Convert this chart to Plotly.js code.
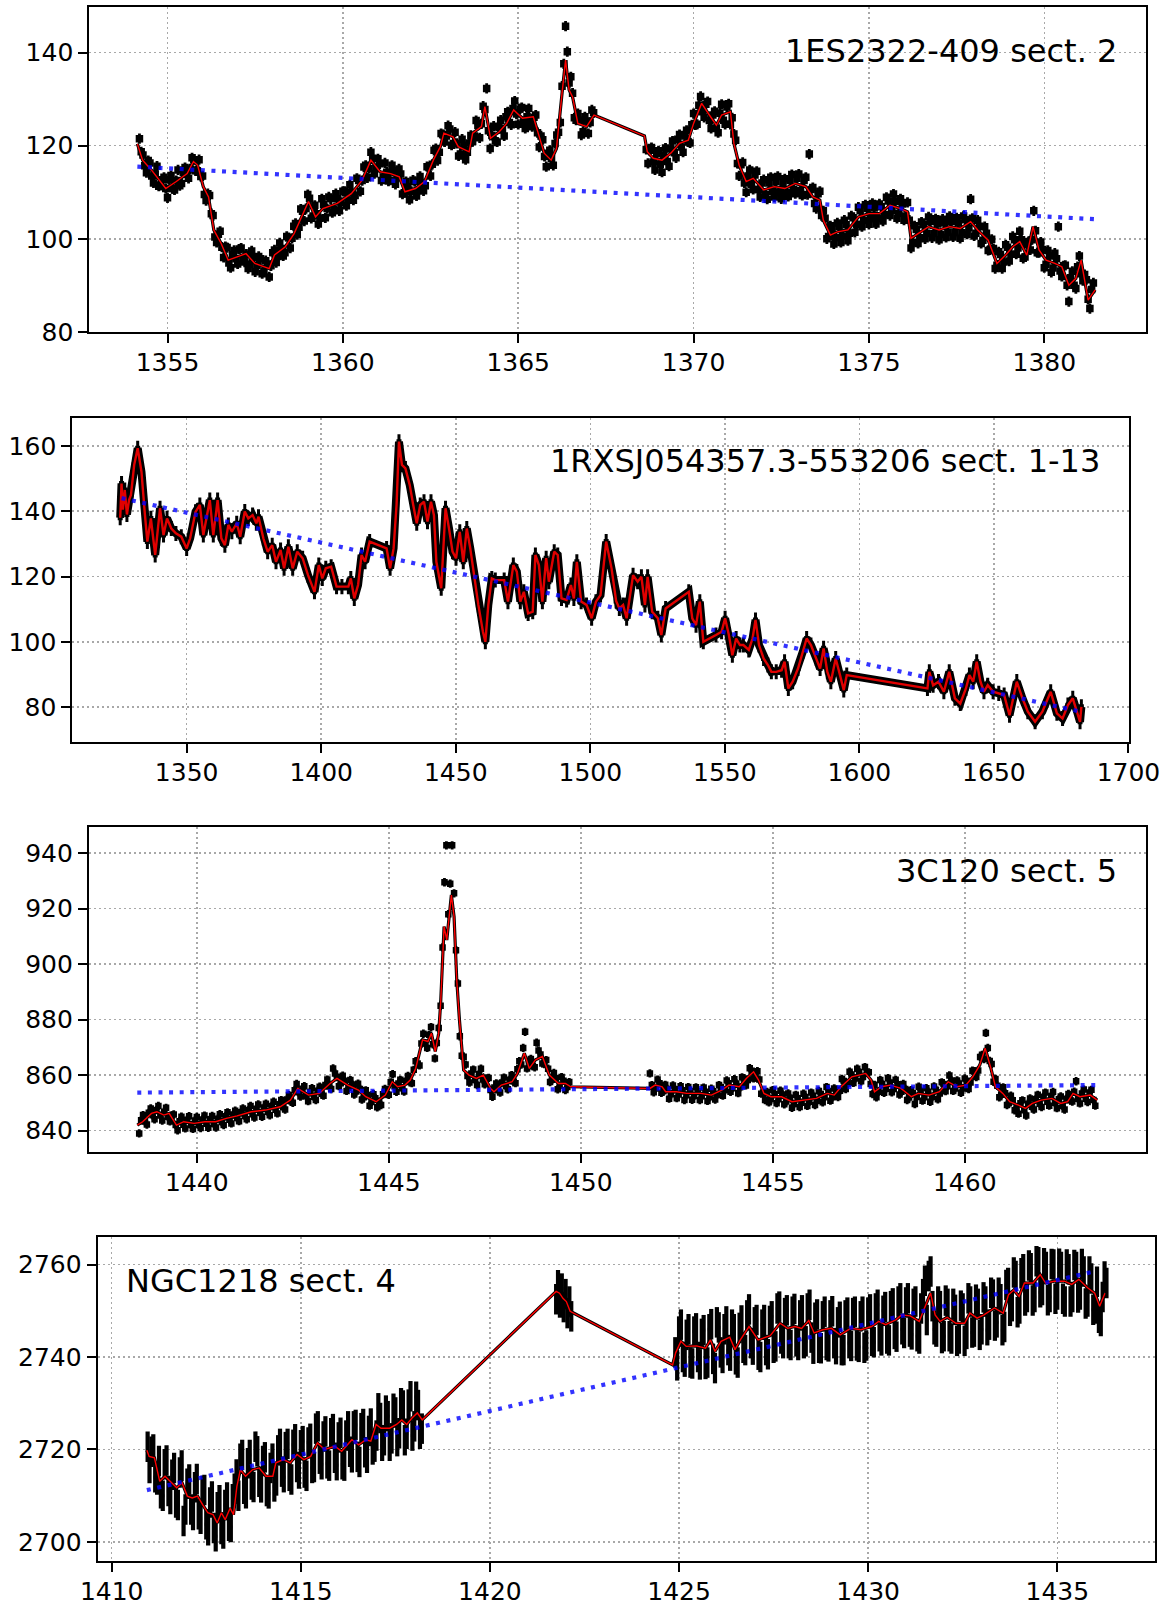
<!DOCTYPE html>
<html>
<head>
<meta charset="utf-8">
<script src="https://cdn.plot.ly/plotly-3.0.1.min.js"></script>
<style>html,body{margin:0;padding:0;background:#fff}#chart{width:1171px;height:1608px}</style>
</head>
<body>
<div id="chart"></div>
<script>
// ---------------- Panel 1 : 1ES2322-409 sect. 2 ----------------
const p1_label = "1ES2322-409 sect. 2";
const p1_st = [1354.14,1354.29,1354.54,1354.95,1355.25,1355.56,1355.74,1355.86,1356.02,1356.17,1356.32,1356.53,1356.73,1356.98,1357.24,1357.49,1357.90,1358.05,1358.36,1358.61,1358.87,1359.02,1359.22,1359.43,1359.84,1360.24,1360.55,1360.80,1361.06,1361.36,1361.61,1361.77,1362.07,1362.33,1362.58,1362.78,1362.88,1363.14,1363.29,1363.60,1363.70,1363.95,1364.05,1364.21,1364.46,1364.67,1364.87,1365.12,1365.43,1365.74,1365.94,1366.09,1366.25,1366.35,1366.45,1366.55,1366.70,1366.95,1367.16,
1368.60,1368.68,1368.85,1369.10,1369.35,1369.60,1369.85,1370.00,1370.23,1370.45,1370.65,1370.80,1371.05,1371.15,1371.30,1371.50,1371.70,1372.00,1372.30,1372.60,1372.90,1373.20,1373.40,1373.60,1373.70,1373.90,1374.10,1374.40,1374.70,1375.00,1375.30,1375.60,1375.90,1376.10,1376.20,1376.40,1376.70,1377.00,1377.30,1377.60,1377.90,1378.10,1378.40,1378.65,1378.90,1379.10,1379.30,1379.50,1379.68,1379.85,1380.05,1380.30,1380.50,1380.70,1380.90,1381.05,1381.25,1381.45];
const p1_smooth = [120.4,116.9,114.8,110.8,112.3,114.0,116.6,115.8,111.2,109.0,101.9,99.0,95.4,96.1,96.8,94.7,93.6,96.5,98.3,101.1,105.4,108.0,104.7,106.5,107.6,109.7,112.6,116.9,114.4,114.0,113.3,110.1,110.8,112.3,116.9,119.8,122.7,121.9,119.8,118.7,122.7,124.1,128.4,121.6,123.0,124.8,127.7,125.9,126.2,118.4,116.9,119.4,131.3,138.4,132.0,130.5,124.8,124.1,126.6,
122.1,118.7,117.3,116.9,118.4,120.5,121.2,124.8,129.1,126.6,124.4,126.6,127.3,120.5,115.8,112.3,113.0,110.5,111.2,110.8,111.9,111.2,109.0,108.3,104.0,100.8,101.5,101.9,104.7,105.4,105.4,107.2,106.5,105.8,100.1,101.1,102.6,101.9,102.6,102.2,103.7,101.9,99.7,94.7,96.5,98.3,99.4,96.5,102.6,97.6,95.4,94.7,94.0,90.0,91.5,95.4,86.8,89.0];
const p1_t = [1354.2,1354.3,1354.4,1354.5,1354.6,1354.7,1354.8,1354.9,1355.0,1355.1,1355.2,1355.3,1355.4,1355.5,1355.6,1355.7,1355.8,1355.9,1356.0,1356.1,1356.2,1356.3,1356.4,1356.5,1356.6,1356.7,1356.8,1356.9,1357.0,1357.1,1357.2,1357.3,1357.4,1357.5,1357.6,1357.7,1357.8,1357.9,1358.0,1358.1,1358.2,1358.3,1358.4,1358.5,1358.6,1358.7,1358.8,1358.9,1359.0,1359.1,1359.2,1359.3,1359.4,1359.5,1359.6,1359.7,1359.8,1359.9,1360.0,1360.1,1360.2,1360.3,1360.4,1360.5,1360.6,1360.7,1360.8,1360.9,1361.0,1361.1,1361.2,1361.3,1361.4,1361.5,1361.6,1361.7,1361.8,1361.9,1362.0,1362.1,1362.2,1362.3,1362.4,1362.5,1362.6,1362.7,1362.8,1362.9,1363.0,1363.1,1363.2,1363.3,1363.4,1363.5,1363.6,1363.7,1363.8,1363.9,1364.0,1364.1,1364.2,1364.3,1364.4,1364.5,1364.6,1364.7,1364.8,1364.9,1365.0,1365.1,1365.2,1365.3,1365.4,1365.5,1365.6,1365.7,1365.8,1365.9,1366.0,1366.1,1366.2,1366.3,1366.35,1366.4,1366.5,1366.6,1366.7,1366.8,1366.9,1367.0,1367.1,
1368.7,1368.8,1368.9,1369.0,1369.1,1369.2,1369.3,1369.4,1369.5,1369.6,1369.7,1369.8,1369.9,1370.0,1370.1,1370.2,1370.3,1370.4,1370.5,1370.6,1370.7,1370.8,1370.9,1371.0,1371.1,1371.2,1371.3,1371.4,1371.5,1371.6,1371.7,1371.8,1371.9,1372.0,1372.1,1372.2,1372.3,1372.4,1372.5,1372.6,1372.7,1372.8,1372.9,1373.0,1373.1,1373.2,1373.3,1373.4,1373.5,1373.6,1373.7,1373.8,1373.9,1374.0,1374.1,1374.2,1374.3,1374.4,1374.5,1374.6,1374.7,1374.8,1374.9,1375.0,1375.1,1375.2,1375.3,1375.4,1375.5,1375.6,1375.7,1375.8,1375.9,1376.0,1376.1,1376.2,1376.3,1376.4,1376.5,1376.6,1376.7,1376.8,1376.9,1377.0,1377.1,1377.2,1377.3,1377.4,1377.5,1377.6,1377.7,1377.8,1377.9,1378.0,1378.1,1378.2,1378.3,1378.4,1378.5,1378.6,1378.7,1378.8,1378.9,1379.0,1379.1,1379.2,1379.3,1379.4,1379.5,1379.6,1379.7,1379.8,1379.9,1380.0,1380.1,1380.2,1380.3,1380.4,1380.5,1380.6,1380.7,1380.8,1380.9,1381.0,1381.1,1381.2,1381.3,1381.4];
const p1_flux = [121.5,118.0,114.2,116.3,112.0,115.6,111.5,113.2,108.8,113.6,110.5,114.8,111.9,115.3,113.0,117.4,114.6,117.0,113.5,108.2,109.3,105.0,99.2,101.6,96.0,98.1,93.8,97.5,94.6,98.0,95.0,93.6,97.4,92.9,96.2,92.5,95.3,91.8,97.0,94.9,99.1,96.3,100.5,98.0,102.7,100.9,106.4,103.8,109.5,104.4,107.2,103.2,108.6,104.5,109.0,105.6,109.7,106.0,110.2,107.1,111.6,108.3,113.0,110.2,115.4,113.1,118.6,114.0,117.2,112.5,116.3,112.4,115.8,111.7,115.0,109.6,112.3,108.4,112.6,109.2,113.4,110.3,115.5,113.5,119.0,116.8,122.6,120.8,124.3,120.1,122.9,117.8,121.4,117.0,120.6,120.9,125.4,121.7,128.5,132.3,119.4,124.2,120.8,125.5,122.1,127.3,124.5,129.6,124.6,128.2,123.7,128.0,124.1,126.6,119.7,121.3,115.5,119.0,115.8,122.3,125.0,137.6,145.7,140.2,134.8,126.0,126.9,122.3,126.2,122.6,127.7,
116.2,119.6,114.8,118.9,114.3,119.5,115.6,121.0,117.4,122.4,118.6,123.3,120.6,126.9,124.6,130.6,126.1,129.5,123.7,127.4,122.8,128.9,124.6,129.0,126.0,121.2,113.5,116.4,110.0,114.8,110.6,114.5,109.0,112.7,108.5,113.2,109.0,113.4,108.6,112.9,109.1,113.8,109.7,113.9,109.3,113.2,118.2,111.0,106.5,110.2,106.0,100.0,102.8,98.9,103.4,99.2,104.0,99.6,104.9,101.4,106.8,102.6,107.3,103.1,107.6,103.2,107.5,103.8,108.9,105.0,109.6,104.4,108.6,104.0,107.8,98.0,102.8,99.0,103.6,100.0,104.7,100.2,104.3,99.8,104.2,100.3,104.8,100.4,104.5,100.1,104.9,101.0,108.5,100.6,104.0,99.0,102.6,97.5,99.9,93.6,97.2,93.6,98.7,95.2,100.5,96.7,101.6,95.8,98.8,97.6,106.0,97.0,99.3,93.8,97.5,92.8,96.9,102.6,91.9,94.3,86.5,93.0,89.3,96.3,91.0,91.2,85.0,90.5];
const p1_t2 = [1354.25,1354.35,1354.45,1354.55,1354.65,1354.75,1354.85,1354.95,1355.05,1355.15,
1355.25,1355.35,1355.45,1355.55,1355.65,1355.75,1355.85,1355.95,1356.05,1356.15,
1356.25,1356.35,1356.45,1356.55,1356.65,1356.75,1356.85,1356.95,1357.05,1357.15,
1357.25,1357.35,1357.45,1357.55,1357.65,1357.75,1357.85,1357.95,1358.05,1358.15,
1358.25,1358.35,1358.45,1358.55,1358.65,1358.75,1358.85,1358.95,1359.05,1359.15,
1359.25,1359.35,1359.45,1359.55,1359.65,1359.75,1359.85,1359.95,1360.05,1360.15,
1360.25,1360.35,1360.45,1360.55,1360.65,1360.75,1360.85,1360.95,1361.05,1361.15,
1361.25,1361.35,1361.45,1361.55,1361.65,1361.75,1361.85,1361.95,1362.05,1362.15,
1362.25,1362.35,1362.45,1362.55,1362.65,1362.75,1362.85,1362.95,1363.05,1363.15,
1363.25,1363.35,1363.45,1363.55,1363.65,1363.75,1363.85,1363.95,1364.05,1364.15,
1364.25,1364.35,1364.45,1364.55,1364.65,1364.75,1364.85,1364.95,1365.05,1365.15,
1365.25,1365.35,1365.45,1365.55,1365.65,1365.75,1365.85,1365.95,1366.05,1366.15,
1366.25,1366.45,1366.55,1366.65,1366.75,1366.85,1366.95,1367.05,1367.15,
1368.65,1368.75,1368.85,1368.95,1369.05,1369.15,1369.25,1369.35,1369.45,1369.55,
1369.65,1369.75,1369.85,1369.95,1370.05,1370.15,1370.25,1370.35,1370.45,1370.55,
1370.65,1370.75,1370.85,1370.95,1371.05,1371.15,1371.25,1371.35,1371.45,1371.55,
1371.65,1371.75,1371.85,1371.95,1372.05,1372.15,1372.25,1372.35,1372.45,1372.55,
1372.65,1372.75,1372.85,1372.95,1373.05,1373.15,1373.25,1373.35,1373.45,1373.55,
1373.65,1373.75,1373.85,1373.95,1374.05,1374.15,1374.25,1374.35,1374.45,1374.55,
1374.65,1374.75,1374.85,1374.95,1375.05,1375.15,1375.25,1375.35,1375.45,1375.55,
1375.65,1375.75,1375.85,1375.95,1376.05,1376.15,1376.25,1376.35,1376.45,1376.55,
1376.65,1376.75,1376.85,1376.95,1377.05,1377.15,1377.25,1377.35,1377.45,1377.55,
1377.65,1377.75,1377.85,1377.95,1378.05,1378.15,1378.25,1378.35,1378.45,1378.55,
1378.65,1378.75,1378.85,1378.95,1379.05,1379.15,1379.25,1379.35,1379.45,1379.55,
1379.65,1379.75,1379.85,1379.95,1380.05,1380.15,1380.25,1380.35,1380.45,1380.55,
1380.65,1380.75,1380.85,1380.95,1381.05,1381.15,1381.25,1381.35];
const p1_flux2 = [118.7,115.7,116.8,113.5,113.9,111.3,112.7,110.8,112.7,110.8,
112.5,111.4,114.3,113.8,115.0,117.0,114.6,113.4,109.5,109.7,
105.4,100.4,101.0,98.2,98.3,94.8,96.6,95.7,97.8,95.6,
96.7,94.5,96.0,94.2,95.7,93.1,94.6,94.2,97.6,96.2,
97.9,97.0,100.2,100.1,103.3,102.5,105.9,106.5,108.7,104.9,
105.4,104.4,107.3,106.5,108.6,106.4,108.6,107.8,110.2,108.3,
110.0,109.3,112.5,112.5,115.8,115.1,117.3,115.1,116.1,113.3,
114.3,112.6,114.6,113.1,113.9,109.9,111.2,110.2,112.3,110.3,
112.0,111.4,115.4,116.0,119.4,118.6,122.4,122.1,123.6,120.5,
120.5,118.2,120.1,118.6,122.2,122.1,124.4,124.7,127.8,123.2,
122.2,121.0,123.9,123.4,126.2,125.0,128.0,126.8,127.9,125.1,
126.2,124.7,126.1,122.8,122.1,117.7,118.4,117.2,120.5,122.9,
132.8,133.5,131.3,125.5,125.5,123.0,125.3,125.0,127.1,
119.2,119.0,116.5,118.3,116.0,117.9,116.6,119.3,118.5,121.4,
119.7,122.1,120.8,124.5,124.5,128.7,127.3,128.9,125.4,126.6,
123.8,127.0,125.5,128.3,124.6,122.5,116.2,115.9,112.0,113.5,
111.7,113.7,110.6,112.0,109.5,112.0,110.2,112.3,110.0,111.9,
110.0,112.5,110.6,113.0,110.4,112.5,109.5,110.6,107.6,109.7,
105.0,104.4,100.5,102.1,100.2,102.7,100.6,103.0,101.2,104.5,
103.1,106.0,104.0,106.5,104.3,106.6,104.3,106.9,105.2,108.1,
106.0,108.0,105.5,107.5,104.9,104.0,99.2,102.0,100.2,103.0,
101.2,103.7,101.1,103.2,100.9,103.4,101.4,103.7,101.3,103.4,
101.3,104.1,102.3,104.4,101.2,102.7,99.7,101.2,97.6,97.9,
94.3,96.6,95.0,98.2,96.7,99.8,98.0,99.8,96.1,99.4,
99.8,101.7,97.0,97.7,94.5,96.3,93.7,95.7,93.1,94.2,
90.0,91.6,90.0,94.0,92.5,92.3,87.0,89.1];
const p1_trend_t = [1354.14, 1381.45];
const p1_trend = [115.5, 104.2];

// ---------------- Panel 2 : 1RXSJ054357.3-553206 sect. 1-13 ----------------
const p2_label = "1RXSJ054357.3-553206 sect. 1-13";
const p2_t = [1325.3,1325.8,1326.3,1327.0,1327.8,1328.6,1329.3,1330.5,1331.8,1333.2,1334.5,1335.4,1336.7,1338.3,1340.1,1341.4,1342.7,1344.3,1346.0,1348.0,1350.0,1351.3,1353.3,1354.9,1356.2,1357.6,1358.6,1359.9,1361.5,1362.9,1364.2,1365.5,1366.8,1368.6,1369.9,1371.6,1372.9,1374.5,1375.9,1376.7,1378.5,1380.1,1381.8,1383.2,1384.9,1386.2,1387.8,1389.4,1391.1,1393.1,1395.1,1397.5,1399.1,1400.4,1401.7,1403.7,1405.7,1407.7,1410.1,1411.0,1412.3,1413.7,1415.0,1416.3,1418.0,1424.3,1425.6,1426.9,1428.0,1428.9,1430.0,1431.3,1432.9,1434.2,1435.5,1436.8,1438.2,1439.5,1440.8,1441.9,1442.8,1444.6,1446.2,1447.5,1448.8,1450.1,1451.5,1452.8,1454.1,1455.4,1456.8,1458.4,1460.1,1461.0,1462.1,1463.4,1464.7,1468.0,1469.4,1471.4,1472.7,1474.0,1475.3,1476.9,1478.6,1479.6,1480.9,1482.2,1483.6,1484.6,1486.6,1487.9,1489.3,1491.2,1492.8,1493.9,1495.0,1496.6,1498.6,1500.5,1502.1,1503.8,1505.9,1507.9,1509.6,1510.8,1512.2,1513.5,1515.9,1517.6,1519.0,1520.3,1521.3,1523.0,1525.1,1526.4,1528.0,1536.6,1537.9,1539.3,1540.7,1542.0,1546.7,1548.8,1550.1,1551.5,1552.8,1554.2,1555.6,1556.9,1558.9,1560.3,1561.4,1562.7,1564.4,1566.0,1567.3,1569.1,1571.1,1572.2,1573.6,1575.2,1577.2,1579.0,1580.4,1582.0,1584.0,1585.4,1586.7,1588.1,1589.4,1591.2,1592.8,1594.2,1595.3,1625.3,1626.0,1627.4,1629.4,1631.4,1633.4,1635.5,1637.5,1639.6,1640.9,1642.3,1643.6,1645.0,1646.3,1647.7,1649.7,1651.8,1653.8,1655.8,1658.5,1660.6,1662.6,1665.3,1668.0,1671.1,1673.4,1675.5,1677.5,1679.3,1680.9,1682.0,1682.5];
const p2_flux = [138.0,148.5,140.5,146.5,139.0,143.5,145.0,154.2,159.3,152.1,138.8,130.7,137.8,126.6,140.9,132.7,137.8,134.7,133.2,132.2,128.6,131.7,139.8,141.9,132.7,138.8,143.4,132.7,143.4,131.7,129.6,135.8,133.7,136.3,132.2,139.9,137.8,138.8,136.3,138.3,131.7,127.6,129.6,124.5,128.1,122.5,129.1,122.5,127.6,125.6,120.4,115.3,123.5,119.4,122.5,123.0,116.9,116.9,116.9,119.4,113.3,117.4,126.6,124.5,130.7,128.6,122.5,128.6,141.9,161.3,154.2,153.1,148.0,141.9,136.3,141.9,142.9,136.8,142.9,138.8,124.5,116.4,140.9,134.7,127.6,125.6,133.7,124.5,134.7,128.6,120.4,111.3,103.1,100.0,111.3,119.4,118.9,118.9,112.3,123.5,121.5,112.3,115.3,108.7,109.2,126.6,123.5,112.3,125.6,118.4,127.6,126.6,113.3,112.8,117.4,113.3,124.5,112.3,111.3,107.2,112.3,114.3,130.7,122.5,112.5,110.2,111.3,107.2,120.4,118.4,119.9,111.3,119.9,109.2,107.2,102.1,110.2,115.3,107.2,105.1,112.3,100.0,102.1,103.1,107.2,102.1,95.9,101.0,99.0,99.0,97.5,101.0,106.7,99.0,94.9,92.9,90.8,90.8,91.3,93.9,85.7,87.8,91.8,97.0,101.0,99.0,94.9,91.8,98.0,90.8,87.8,94.9,89.8,85.2,89.8,85.7,90.8,86.7,87.8,84.7,90.8,82.7,81.1,85.7,89.8,87.8,93.9,87.8,84.7,86.7,84.7,84.2,83.7,77.5,87.8,82.7,78.6,75.5,78.6,84.7,78.1,76.5,80.6,82.7,78.6,75.5,80.1];
const p2_trend_t = [1325.8, 1682.2];
const p2_trend = [144.0, 78.6];

// ---------------- Panel 3 : 3C120 sect. 5 ----------------
const p3_label = "3C120 sect. 5";
const p3_st = [1438.45,1438.59,1438.82,1438.96,1439.14,1439.28,1439.47,1439.66,1439.93,1440.21,1440.49,1440.77,1441.05,1441.42,1441.79,1442.17,1442.44,1442.63,1442.91,1443.19,1443.47,1443.65,1443.93,1444.21,1444.40,1444.67,1444.91,1445.09,1445.23,1445.42,1445.56,1445.70,1445.88,1446.02,1446.11,1446.21,1446.30,1446.35,1446.44,1446.51,1446.63,1446.70,1446.77,1446.84,1446.95,1447.09,1447.28,1447.46,1447.65,1447.74,1447.93,1448.21,1448.35,1448.53,1448.66,1448.82,1449.00,1449.18,1449.42,1449.60,1449.74,
1451.80,1451.94,1452.12,1452.21,1452.49,1452.76,1453.13,1453.40,1453.67,1453.86,1454.13,1454.31,1454.50,1454.63,1454.77,1454.95,1455.23,1455.50,1455.78,1456.14,1456.42,1456.60,1456.78,1457.06,1457.42,1457.56,1457.65,1457.83,1458.06,1458.34,1458.61,1458.79,1459.07,1459.34,1459.57,1459.80,1460.03,1460.21,1460.39,1460.53,1460.67,1460.80,1460.99,1461.17,1461.40,1461.58,1461.76,1461.99,1462.27,1462.50,1462.68,1462.82,1463.00,1463.27,1463.45];
const p3_smooth = [842.0,843.2,846.2,846.8,845.6,846.2,842.0,843.2,842.6,843.2,843.2,844.4,845.3,846.8,847.4,848.6,851.0,855.2,852.8,853.4,857.0,858.8,856.4,854.6,852.2,850.4,852.8,857.6,855.8,856.4,858.2,862.4,872.7,872.1,875.1,868.5,875.1,885.9,913.5,908.7,924.9,917.1,894.3,879.9,861.8,860.0,858.8,860.0,855.2,854.0,856.4,857.6,860.6,867.9,862.4,865.5,866.7,860.0,857.0,857.0,855.8,
855.2,856.4,855.8,854.0,854.0,853.4,853.4,852.8,854.6,856.4,855.8,858.8,861.2,858.2,853.4,852.2,852.2,850.4,851.0,851.6,853.4,852.8,855.8,859.4,860.6,858.2,854.0,855.8,856.4,855.2,852.2,853.4,852.8,854.0,857.6,855.8,856.4,859.4,863.6,869.7,863.0,855.8,853.4,850.4,849.2,848.0,849.8,851.0,851.6,849.8,850.4,853.4,852.2,852.8,851.0];
const p3_t = [1438.5,1438.6,1438.7,1438.8,1438.9,1439.0,1439.1,1439.2,1439.3,1439.4,1439.5,1439.6,1439.7,1439.8,1439.9,1440.0,1440.1,1440.2,1440.3,1440.4,1440.5,1440.6,1440.7,1440.8,1440.9,1441.0,1441.1,1441.2,1441.3,1441.4,1441.5,1441.6,1441.7,1441.8,1441.9,1442.0,1442.1,1442.2,1442.3,1442.4,1442.5,1442.6,1442.7,1442.8,1442.9,1443.0,1443.1,1443.2,1443.3,1443.4,1443.5,1443.55,1443.6,1443.7,1443.8,1443.9,1444.0,1444.1,1444.2,1444.3,1444.4,1444.5,1444.6,1444.7,1444.8,1444.9,1445.0,1445.1,1445.2,1445.3,1445.4,1445.5,1445.6,1445.7,1445.8,1445.9,1446.0,1446.1,1446.2,1446.25,1446.3,1446.35,1446.4,1446.45,1446.5,1446.55,1446.6,1446.65,1446.7,1446.75,1446.8,1446.85,1446.9,1447.0,1447.1,1447.2,1447.3,1447.4,1447.5,1447.6,1447.7,1447.8,1447.9,1448.0,1448.1,1448.2,1448.3,1448.4,1448.5,1448.55,1448.6,1448.7,1448.8,1448.85,1448.9,1449.0,1449.1,1449.2,1449.3,1449.4,1449.5,1449.6,1449.7,
1451.8,1451.9,1452.0,1452.1,1452.2,1452.3,1452.4,1452.5,1452.6,1452.7,1452.8,1452.9,1453.0,1453.1,1453.2,1453.3,1453.4,1453.5,1453.6,1453.7,1453.8,1453.9,1454.0,1454.1,1454.2,1454.3,1454.4,1454.5,1454.6,1454.7,1454.8,1454.9,1455.0,1455.1,1455.2,1455.3,1455.4,1455.5,1455.6,1455.7,1455.8,1455.9,1456.0,1456.1,1456.2,1456.3,1456.4,1456.5,1456.6,1456.7,1456.8,1456.9,1457.0,1457.1,1457.2,1457.3,1457.4,1457.5,1457.6,1457.7,1457.8,1457.9,1458.0,1458.1,1458.2,1458.3,1458.4,1458.5,1458.6,1458.7,1458.8,1458.9,1459.0,1459.1,1459.2,1459.3,1459.4,1459.5,1459.6,1459.7,1459.8,1459.9,1460.0,1460.1,1460.2,1460.3,1460.4,1460.5,1460.55,1460.6,1460.7,1460.8,1460.9,1461.0,1461.1,1461.2,1461.3,1461.4,1461.5,1461.6,1461.7,1461.8,1461.9,1462.0,1462.1,1462.2,1462.3,1462.4,1462.5,1462.6,1462.7,1462.8,1462.9,1463.0,1463.1,1463.2,1463.3,1463.4];
const p3_flux = [839.0,845.6,842.2,848.0,844.1,848.9,843.6,848.2,843.3,845.8,840.1,845.0,840.8,845.2,840.6,844.9,840.9,845.4,841.0,845.3,841.1,845.9,842.0,846.6,842.6,847.2,843.4,848.0,844.1,848.9,844.7,849.4,845.0,849.7,845.5,850.4,846.2,851.0,847.6,852.8,850.0,856.8,852.3,856.0,850.6,855.3,851.0,855.8,852.6,858.4,855.0,862.4,860.6,856.0,859.8,854.3,858.2,853.0,856.9,851.2,854.5,849.0,853.1,848.4,849.2,855.0,852.9,860.3,854.0,858.3,854.1,859.7,857.1,865.0,863.5,874.9,869.8,877.3,866.0,871.6,877.0,885.0,906.0,929.5,942.8,918.0,929.0,942.8,925.5,905.0,893.0,874.0,867.0,863.8,857.3,862.0,856.4,862.3,856.7,859.0,852.2,857.0,853.7,859.1,854.9,860.0,857.1,865.0,869.8,875.6,862.4,865.8,862.8,871.7,868.9,864.2,865.4,857.5,860.8,854.9,859.3,854.6,857.5,
860.6,853.8,858.4,853.6,856.5,851.5,856.3,851.7,856.0,851.0,855.7,851.1,855.6,851.0,855.5,850.7,855.1,851.2,856.4,852.6,858.1,854.0,858.5,853.5,859.2,856.3,862.5,858.8,861.4,853.3,851.0,850.2,854.6,849.9,854.4,849.5,853.4,848.2,852.9,848.5,853.3,848.9,853.7,849.2,854.3,850.2,855.7,850.8,855.2,852.1,858.6,855.0,861.2,857.2,862.3,857.8,862.9,861.0,853.2,852.0,858.2,853.6,858.9,853.8,858.3,853.0,856.8,851.0,854.6,849.6,855.8,850.8,855.3,850.4,855.9,851.3,857.4,854.2,859.9,854.3,858.1,853.6,858.8,855.0,861.6,859.3,866.5,865.8,875.2,869.8,864.0,858.6,852.0,855.6,849.2,852.6,847.3,846.1,850.9,845.4,851.6,847.6,852.9,848.5,853.7,849.0,853.9,848.1,852.3,847.6,853.2,850.5,857.8,849.8,854.8,850.3,854.7,849.0];
const p3_t2 = [1438.55,1438.65,1438.75,1438.85,1438.95,1439.05,1439.15,1439.25,1439.35,1439.45,
1439.55,1439.65,1439.75,1439.85,1439.95,1440.05,1440.15,1440.25,1440.35,1440.45,
1440.55,1440.65,1440.75,1440.85,1440.95,1441.05,1441.15,1441.25,1441.35,1441.45,
1441.55,1441.65,1441.75,1441.85,1441.95,1442.05,1442.15,1442.25,1442.35,1442.45,
1442.55,1442.65,1442.75,1442.85,1442.95,1443.05,1443.15,1443.25,1443.35,1443.45,
1443.65,1443.75,1443.85,1443.95,1444.05,1444.15,1444.25,1444.35,1444.45,1444.55,
1444.65,1444.75,1444.85,1444.95,1445.05,1445.15,1445.25,1445.35,1445.45,1445.55,
1445.65,1445.75,1445.85,1445.95,1446.05,1446.15,
1446.95,1447.05,1447.15,1447.25,1447.35,1447.45,1447.55,1447.65,1447.75,1447.85,
1447.95,1448.05,1448.15,1448.25,1448.35,1448.45,
1448.65,1448.75,
1448.95,1449.05,1449.15,1449.25,1449.35,1449.45,1449.55,1449.65,
1451.85,1451.95,1452.05,1452.15,1452.25,1452.35,1452.45,1452.55,1452.65,1452.75,
1452.85,1452.95,1453.05,1453.15,1453.25,1453.35,1453.45,1453.55,1453.65,1453.75,
1453.85,1453.95,1454.05,1454.15,1454.25,1454.35,1454.45,1454.55,1454.65,1454.75,
1454.85,1454.95,1455.05,1455.15,1455.25,1455.35,1455.45,1455.55,1455.65,1455.75,
1455.85,1455.95,1456.05,1456.15,1456.25,1456.35,1456.45,1456.55,1456.65,1456.75,
1456.85,1456.95,1457.05,1457.15,1457.25,1457.35,1457.45,1457.55,1457.65,1457.75,
1457.85,1457.95,1458.05,1458.15,1458.25,1458.35,1458.45,1458.55,1458.65,1458.75,
1458.85,1458.95,1459.05,1459.15,1459.25,1459.35,1459.45,1459.55,1459.65,1459.75,
1459.85,1459.95,1460.05,1460.15,1460.25,1460.35,1460.45,
1460.65,1460.75,1460.85,1460.95,1461.05,1461.15,1461.25,1461.35,1461.45,1461.55,
1461.65,1461.75,1461.85,1461.95,1462.05,1462.15,1462.25,1462.35,1462.45,1462.55,
1462.65,1462.75,1462.85,1462.95,1463.05,1463.15,1463.25,1463.35];
const p3_flux2 = [843.7,843.3,846.4,845.5,847.4,845.4,846.8,845.0,845.5,842.0,
843.4,842.1,843.9,842.0,843.6,842.1,844.0,842.5,844.1,842.4,
844.3,843.1,845.2,843.9,845.8,844.5,846.6,845.3,847.4,845.9,
847.9,846.4,848.3,846.8,848.9,847.5,849.5,848.4,851.2,850.6,
854.5,853.8,855.1,852.4,853.9,852.2,854.4,853.3,856.4,855.9,
859.3,857.1,858.0,855.4,856.6,854.1,855.0,852.0,852.8,850.3,
851.7,850.4,853.1,853.2,857.4,856.0,857.0,855.3,857.9,857.5,
861.9,864.2,871.4,871.5,874.5,871.1,
866.6,859.7,860.6,858.2,860.3,858.4,858.8,854.6,855.5,854.5,
857.3,856.1,858.3,857.7,862.1,863.8,
865.1,863.3,
867.4,864.0,862.3,858.3,858.9,856.2,858.0,855.7,
856.4,855.2,857.1,854.2,855.0,853.1,854.9,853.0,854.5,852.7,
854.3,852.5,854.2,852.4,854.0,852.0,854.2,852.9,855.6,854.5,
857.1,855.3,857.0,855.6,858.8,858.2,861.6,859.1,858.4,853.6,
853.9,851.4,853.2,851.3,853.0,850.5,851.8,849.6,851.7,850.0,
852.1,850.4,852.6,850.8,853.2,852.0,854.3,852.0,854.7,854.4,
857.9,857.0,860.2,858.8,861.1,859.3,860.9,856.8,856.5,854.0,
856.8,855.1,857.3,855.0,856.7,854.0,855.0,851.9,853.5,852.1,
854.4,852.0,854.0,852.1,854.7,853.4,856.8,856.0,858.1,855.2,
857.0,855.2,858.0,857.3,861.4,861.7,867.3,
865.1,857.6,856.2,852.9,853.5,849.9,850.9,848.4,849.9,847.3,
849.7,848.6,851.3,849.7,852.2,850.4,852.5,850.0,851.3,848.9,
851.5,850.9,854.0,851.5,853.4,851.5,853.7,851.0];
const p3_trend_t = [1438.45, 1463.4];
const p3_trend = [853.7, 856.4];

// ---------------- Panel 4 : NGC1218 sect. 4 ----------------
const p4_label = "NGC1218 sect. 4";
const p4_st = [1410.93,1410.99,1411.13,1411.27,1411.41,1411.54,1411.72,1411.86,1412.00,1412.13,1412.27,1412.40,1412.54,1412.68,1412.79,1412.90,1413.00,1413.13,1413.22,1413.31,1413.40,1413.54,1413.72,1413.90,1414.08,1414.26,1414.34,1414.54,1414.72,1414.90,1415.08,1415.26,1415.44,1415.63,1415.90,1416.08,1416.35,1416.53,1416.72,1416.85,1416.99,1417.12,1417.35,1417.53,1417.67,1417.80,1417.94,1418.08,1418.21,
1421.75,1421.84,1421.93,1422.02,1422.12,
1424.83,1424.91,1425.05,1425.19,1425.46,1425.70,1425.83,1425.95,1426.11,1426.34,1426.48,1426.62,1426.85,1427.09,1427.41,1427.67,1427.87,1428.06,1428.24,1428.43,1428.57,1428.80,1429.03,1429.26,1429.54,1429.81,1430.09,1430.28,1430.46,1430.74,1430.88,1431.11,1431.35,1431.49,1431.65,1431.77,1431.90,1432.09,1432.32,1432.55,1432.69,1432.88,1433.06,1433.34,1433.57,1433.71,1433.85,1433.99,1434.13,1434.36,1434.55,1434.69,1434.92,1435.19,1435.38,1435.57,1435.80,1435.99,1436.12,1436.26];
const p4_smooth = [2719.8,2718.5,2718.2,2713.1,2714.2,2713.1,2711.7,2712.8,2709.9,2709.5,2709.9,2708.1,2706.3,2705.9,2704.1,2706.3,2704.8,2707.3,2705.9,2712.0,2715.6,2714.2,2715.6,2716.0,2714.2,2714.2,2717.1,2717.8,2717.1,2718.9,2717.8,2718.5,2721.4,2720.0,2720.7,2719.6,2722.1,2721.0,2722.1,2721.8,2725.4,2724.6,2724.6,2725.4,2726.4,2725.4,2726.8,2727.9,2726.4,
2754.2,2753.8,2752.7,2752.0,2749.9,
2738.3,2740.9,2743.4,2742.3,2742.4,2741.9,2743.7,2741.2,2743.4,2744.3,2741.6,2743.7,2746.6,2743.7,2744.6,2747.3,2746.2,2746.6,2746.2,2747.9,2745.2,2745.9,2746.2,2744.8,2746.2,2745.9,2746.6,2747.7,2747.0,2748.1,2749.1,2748.9,2747.7,2750.6,2753.8,2749.1,2747.7,2748.6,2747.3,2747.3,2749.5,2748.4,2749.1,2750.6,2749.5,2753.5,2754.5,2753.1,2756.0,2756.0,2757.8,2756.0,2756.4,2756.4,2755.7,2756.8,2755.0,2753.8,2751.0,2753.8];
const p4_t = [1410.95,1411.0,1411.05,1411.1,1411.2,1411.3,1411.4,1411.5,1411.6,1411.7,1411.8,1411.9,1412.0,1412.1,1412.2,1412.3,1412.4,1412.5,1412.6,1412.7,1412.8,1412.9,1413.0,1413.1,1413.2,1413.3,1413.4,1413.5,1413.6,1413.7,1413.8,1413.9,1414.0,1414.1,1414.2,1414.3,1414.4,1414.5,1414.6,1414.7,1414.8,1414.9,1415.0,1415.1,1415.2,1415.3,1415.4,1415.5,1415.6,1415.7,1415.8,1415.9,1416.0,1416.1,1416.2,1416.3,1416.4,1416.5,1416.6,1416.7,1416.8,1416.9,1417.0,1417.1,1417.2,1417.3,1417.4,1417.5,1417.6,1417.7,1417.8,1417.9,1418.0,1418.1,1418.2,
1421.75,1421.8,1421.85,1421.9,1421.95,1422.0,1422.05,1422.1,1422.15,
1424.9,1425.0,1425.1,1425.2,1425.3,1425.4,1425.5,1425.6,1425.7,1425.8,1425.9,1426.0,1426.1,1426.2,1426.3,1426.4,1426.5,1426.6,1426.7,1426.8,1426.9,1427.0,1427.1,1427.2,1427.3,1427.4,1427.5,1427.6,1427.7,1427.8,1427.9,1428.0,1428.1,1428.2,1428.3,1428.4,1428.5,1428.6,1428.7,1428.8,1428.9,1429.0,1429.1,1429.2,1429.3,1429.4,1429.5,1429.6,1429.7,1429.8,1429.9,1430.0,1430.1,1430.2,1430.3,1430.4,1430.5,1430.6,1430.7,1430.8,1430.9,1431.0,1431.1,1431.2,1431.3,1431.4,1431.5,1431.6,1431.7,1431.8,1431.9,1432.0,1432.1,1432.2,1432.3,1432.4,1432.5,1432.6,1432.7,1432.8,1432.9,1433.0,1433.1,1433.2,1433.3,1433.4,1433.5,1433.6,1433.7,1433.8,1433.9,1434.0,1434.1,1434.2,1434.3,1434.4,1434.5,1434.6,1434.7,1434.8,1434.9,1435.0,1435.1,1435.2,1435.3,1435.4,1435.5,1435.6,1435.7,1435.8,1435.9,1436.0,1436.1,1436.2,1436.3];
const p4_flux = [2720.6,2716.0,2719.5,2720.0,2713.5,2710.5,2716.8,2711.0,2714.5,2708.5,2715.0,2704.5,2712.6,2707.0,2711.8,2706.0,2711.0,2703.8,2708.5,2703.0,2707.5,2702.8,2708.0,2703.5,2709.2,2714.6,2718.0,2711.5,2717.0,2712.4,2720.6,2713.0,2717.5,2711.0,2716.0,2712.0,2719.8,2715.2,2720.5,2714.3,2721.0,2716.2,2720.9,2715.0,2721.5,2716.0,2724.5,2718.0,2722.8,2717.0,2723.5,2718.2,2722.6,2716.8,2723.0,2719.5,2725.0,2718.4,2724.6,2719.4,2724.0,2720.0,2723.0,2726.8,2722.0,2727.2,2722.4,2728.0,2723.5,2729.5,2723.4,2731.5,2725.0,2729.6,2724.5,
2752.5,2755.5,2751.8,2754.8,2750.8,2753.6,2749.5,2752.0,2748.8,
2741.0,2745.5,2740.0,2744.8,2738.8,2745.5,2740.0,2745.0,2738.5,2746.0,2739.6,2747.5,2741.0,2746.0,2741.5,2747.0,2739.5,2746.3,2742.0,2749.0,2743.0,2747.5,2740.5,2747.0,2741.5,2747.8,2742.0,2750.5,2744.0,2749.5,2743.0,2749.8,2743.4,2749.0,2743.0,2750.5,2744.2,2748.5,2742.0,2748.8,2742.6,2749.0,2743.0,2747.5,2741.5,2749.0,2743.0,2749.5,2742.5,2748.8,2742.0,2749.6,2743.5,2750.5,2744.5,2750.0,2744.0,2751.0,2745.0,2752.0,2746.0,2751.8,2745.5,2751.5,2744.5,2750.5,2756.5,2757.5,2751.0,2745.5,2751.0,2744.5,2751.5,2744.0,2750.2,2744.0,2750.5,2745.0,2752.0,2745.5,2751.5,2746.0,2752.0,2747.0,2753.5,2747.5,2752.5,2746.5,2756.0,2751.0,2757.5,2750.5,2759.0,2753.0,2759.2,2753.0,2760.5,2754.5,2759.5,2753.0,2760.0,2753.5,2759.5,2752.0,2759.0,2753.0,2759.5,2753.5,2758.5,2752.0,2757.0,2750.5,2748.5,2753.0,2756.0];
const p4_t2 = [1411.15,1411.25,1411.35,1411.45,1411.55,1411.65,1411.75,1411.85,1411.95,1412.05,
1412.15,1412.25,1412.35,1412.45,1412.55,1412.65,1412.75,1412.85,1412.95,1413.05,
1413.15,1413.25,1413.35,1413.45,1413.55,1413.65,1413.75,1413.85,1413.95,1414.05,
1414.15,1414.25,1414.35,1414.45,1414.55,1414.65,1414.75,1414.85,1414.95,1415.05,
1415.15,1415.25,1415.35,1415.45,1415.55,1415.65,1415.75,1415.85,1415.95,1416.05,
1416.15,1416.25,1416.35,1416.45,1416.55,1416.65,1416.75,1416.85,1416.95,1417.05,
1417.15,1417.25,1417.35,1417.45,1417.55,1417.65,1417.75,1417.85,1417.95,1418.05,
1418.15,
1424.95,1425.05,1425.15,1425.25,1425.35,1425.45,1425.55,1425.65,1425.75,1425.85,
1425.95,1426.05,1426.15,1426.25,1426.35,1426.45,1426.55,1426.65,1426.75,1426.85,
1426.95,1427.05,1427.15,1427.25,1427.35,1427.45,1427.55,1427.65,1427.75,1427.85,
1427.95,1428.05,1428.15,1428.25,1428.35,1428.45,1428.55,1428.65,1428.75,1428.85,
1428.95,1429.05,1429.15,1429.25,1429.35,1429.45,1429.55,1429.65,1429.75,1429.85,
1429.95,1430.05,1430.15,1430.25,1430.35,1430.45,1430.55,1430.65,1430.75,1430.85,
1430.95,1431.05,1431.15,1431.25,1431.35,1431.45,1431.55,1431.65,1431.75,1431.85,
1431.95,1432.05,1432.15,1432.25,1432.35,1432.45,1432.55,1432.65,1432.75,1432.85,
1432.95,1433.05,1433.15,1433.25,1433.35,1433.45,1433.55,1433.65,1433.75,1433.85,
1433.95,1434.05,1434.15,1434.25,1434.35,1434.45,1434.55,1434.65,1434.75,1434.85,
1434.95,1435.05,1435.15,1435.25,1435.35,1435.45,1435.55,1435.65,1435.75,1435.85,
1435.95,1436.05,1436.15,1436.25];
const p4_flux2 = [2714.0,2717.5,2710.0,2717.6,2709.3,2716.0,2708.0,2716.5,2707.0,2713.5,
2705.8,2713.6,2705.0,2711.2,2702.5,2709.8,2701.2,2709.0,2701.8,2709.6,
2703.2,2711.5,2710.0,2718.8,2710.5,2718.8,2711.9,2719.6,2711.8,2718.3,
2710.5,2718.0,2713.3,2721.2,2714.0,2721.2,2713.5,2722.2,2714.8,2721.8,
2714.3,2722.3,2716.2,2725.0,2716.8,2723.9,2716.5,2724.4,2716.6,2723.6,
2716.5,2725.0,2718.3,2725.3,2717.3,2725.5,2718.2,2725.6,2720.6,2728.9,
2720.8,2728.4,2720.8,2728.8,2721.8,2730.0,2722.0,2729.7,2723.0,2731.4,
2723.4,
2738.2,2747.0,2739.0,2746.0,2738.6,2746.2,2738.4,2745.8,2738.8,2747.1,
2737.6,2746.4,2739.8,2747.7,2740.3,2746.0,2738.8,2747.9,2741.5,2750.3,
2741.6,2748.0,2740.0,2748.0,2740.6,2748.8,2742.3,2750.9,2743.0,2750.1,
2742.6,2750.4,2742.6,2750.1,2743.4,2751.3,2741.8,2749.2,2741.9,2749.8,
2742.3,2749.9,2741.7,2748.7,2741.5,2749.6,2742.4,2749.8,2742.2,2749.8,
2742.5,2750.3,2743.2,2751.3,2743.6,2750.8,2743.6,2751.6,2744.4,2752.7,
2745.2,2752.7,2744.9,2752.0,2744.0,2753.6,2748.0,2758.5,2746.0,2752.0,
2744.1,2752.2,2744.5,2751.5,2743.5,2751.1,2743.5,2752.7,2745.3,2752.4,
2744.8,2752.9,2745.8,2753.9,2746.8,2753.9,2745.8,2755.6,2750.0,2758.3,
2749.7,2758.1,2752.2,2759.8,2752.2,2760.7,2754.0,2760.3,2752.3,2760.1,
2752.6,2760.2,2752.6,2760.0,2752.0,2759.9,2752.9,2760.1,2751.6,2758.5,
2750.2,2756.3,2747.8,2757.4];
const p4_trend_t = [1410.93, 1436.03];
const p4_trend = [2711.2, 2758.6];

// ---------------- Layout helpers ----------------
const FONT = 'DejaVu Sans';
const W = 1171, H = 1608;
function xd(l, r) { return [l / W, r / W]; }
function yd(t, b) { return [1 - b / H, 1 - t / H]; }

function ax(domain, range, tick0, dtick, anchor, isX) {
  const a = {
    domain: domain, range: range, anchor: anchor,
    tickmode: 'linear', tick0: tick0, dtick: dtick,
    ticks: 'outside', ticklen: 9, tickwidth: 2, tickcolor: '#000',
    showline: true, linecolor: '#000', linewidth: 2, mirror: true,
    showgrid: true, gridcolor: '#a8a8a8', gridwidth: 1.5, griddash: '2px,3px',
    zeroline: false, fixedrange: true,
    tickfont: { family: FONT, size: 25, color: '#000' }
  };
  if (isX) a.ticklabelstandoff = -2;
  return a;
}

const RED = '#ff0000';
const BLUE = 'rgba(0,0,255,0.8)';
const DOTS = '4px,6.6px';

function scatterPanel(xa, ya, st, sm, t, f, t2, f2, tt, tr, opt) {
  const xs = t.concat(t2), ys = f.concat(f2);
  return [
    { x: st, y: sm, xaxis: xa, yaxis: ya, mode: 'lines', line: { color: '#000', width: 3.2 }, hoverinfo: 'skip' },
    { x: xs, y: ys, xaxis: xa, yaxis: ya, mode: 'markers',
      marker: { symbol: 'square', size: opt.ms, color: '#000', line: { width: 0 } },
      error_y: { type: 'constant', value: opt.err, thickness: opt.et, width: 0, color: '#000' } },
    { x: st, y: sm, xaxis: xa, yaxis: ya, mode: 'lines', line: { color: RED, width: 1.4 } },
    { x: tt, y: tr, xaxis: xa, yaxis: ya, mode: 'lines', line: { color: BLUE, width: 4.2, dash: DOTS } }
  ];
}

const traces = [].concat(
  scatterPanel('x', 'y', p1_st, p1_smooth, p1_t, p1_flux, p1_t2, p1_flux2, p1_trend_t, p1_trend, { ms: 7.5, err: 1.1, et: 2.8 }),
  [
    { x: p2_t, y: p2_flux, xaxis: 'x2', yaxis: 'y2', mode: 'lines+markers', line: { color: '#000', width: 8 },
      marker: { symbol: 'square', size: 5, color: '#000' },
      error_y: { type: 'constant', value: 2.3, thickness: 3, width: 0, color: '#000' } },
    { x: p2_t, y: p2_flux, xaxis: 'x2', yaxis: 'y2', mode: 'lines', line: { color: '#e00000', width: 2.4 } },
    { x: p2_trend_t, y: p2_trend, xaxis: 'x2', yaxis: 'y2', mode: 'lines', line: { color: BLUE, width: 4.2, dash: DOTS } }
  ],
  scatterPanel('x3', 'y3', p3_st, p3_smooth, p3_t, p3_flux, p3_t2, p3_flux2, p3_trend_t, p3_trend, { ms: 6.5, err: 1.5, et: 2.8 }),
  scatterPanel('x4', 'y4', p4_st, p4_smooth, p4_t, p4_flux, p4_t2, p4_flux2, p4_trend_t, p4_trend, { ms: 3, err: 3.3, et: 4.2 })
);

const dx1 = xd(89.3, 1146), dy1 = yd(7.3, 332.3);
const dx2 = xd(72.3, 1129), dy2 = yd(417.5, 741.7);
const dx3 = xd(88.9, 1146), dy3 = yd(827.3, 1151.7);
const dx4 = xd(97.7, 1154.5), dy4 = yd(1237.3, 1561.3);

function ann(xref, yref, text, x, y, xanchor) {
  return { xref: xref + ' domain', yref: yref + ' domain', x: x, y: y, xanchor: xanchor, yanchor: 'top',
    text: text, showarrow: false, borderpad: 0, font: { family: FONT, size: 32, color: '#000' } };
}

const layout = {
  width: W, height: H, margin: { l: 0, r: 0, t: 0, b: 0 },
  paper_bgcolor: '#fff', plot_bgcolor: '#fff', showlegend: false,
  xaxis: ax(dx1, [1352.77, 1382.9], 1355, 5, 'y', true),
  yaxis: ax(dy1, [79.9, 149.75], 80, 20, 'x', false),
  xaxis2: ax(dx2, [1307.5, 1700.2], 1350, 50, 'y2', true),
  yaxis2: ax(dy2, [69.4, 168.7], 80, 20, 'x2', false),
  xaxis3: ax(dx3, [1437.19, 1464.72], 1440, 5, 'y3', true),
  yaxis3: ax(dy3, [832.4, 949.3], 840, 20, 'x3', false),
  xaxis4: ax(dx4, [1409.63, 1437.57], 1410, 5, 'y4', true),
  yaxis4: ax(dy4, [2695.8, 2765.9], 2700, 20, 'x4', false),
  annotations: [
    ann('x', 'y', p1_label, 0.9735, 0.927, 'right'),
    ann('x2', 'y2', p2_label, 0.9735, 0.927, 'right'),
    ann('x3', 'y3', p3_label, 0.9735, 0.927, 'right'),
    ann('x4', 'y4', p4_label, 0.0255, 0.927, 'left')
  ]
};

Plotly.newPlot('chart', traces, layout, { staticPlot: true, displayModeBar: false });
</script>
</body>
</html>
